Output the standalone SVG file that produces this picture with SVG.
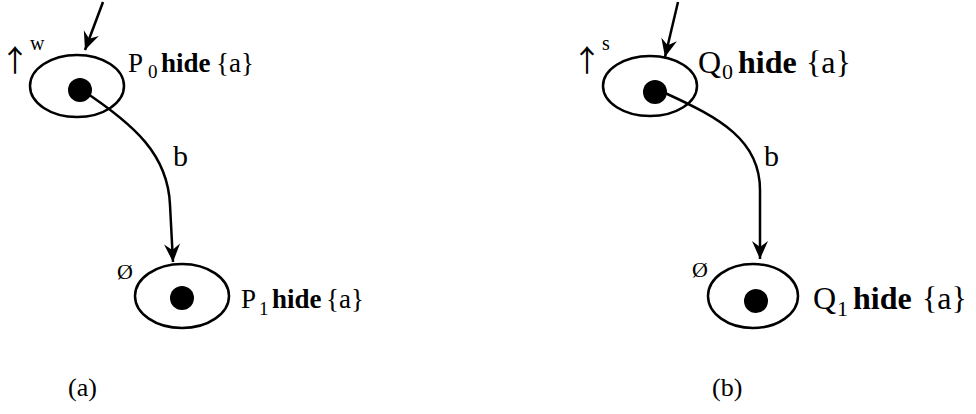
<svg xmlns="http://www.w3.org/2000/svg" width="976" height="414" viewBox="0 0 976 414">
  <style>
    .state { fill: none; stroke: #000; stroke-width: 2.5; }
    .dot { fill: #000; }
    .edge { fill: none; stroke: #000; stroke-width: 2.5; marker-end: url(#head); }
    text { font-family: "Liberation Serif", "Times New Roman", serif; fill: #000; }
    .lbl-a { font-size: 27px; }
    .sub-a { font-size: 19px; }
    .lbl { font-size: 32px; }
    .sub { font-size: 22px; }
    .bold { font-weight: bold; }
    .edge-lbl { font-size: 30px; }
    .mark { font-size: 22px; }
    .arrow-up { font-family: "Noto Sans CJK JP", "DejaVu Sans", sans-serif; font-size: 30px; }
    .sup { font-size: 20px; }
    .cap { font-size: 26px; }
  </style>
  <defs>
    <marker id="head" markerUnits="userSpaceOnUse" markerWidth="22" markerHeight="18" viewBox="-18 -9 20 18" refX="0" refY="0" orient="auto">
      <path d="M0,0 L-18,-8 L-12,0 L-18,8 Z" fill="#000"/>
    </marker>
  </defs>

  <!-- transitions -->
  <g id="connectors">
    <path class="edge" d="M103,2 L85,50"/>
    <path class="edge" d="M82,90 C135,125 168,155 170,205 L173,262"/>
    <path class="edge" d="M678,2 L665,57"/>
    <path class="edge" d="M665,93 C720,118 760,140 760,190 L760,259"/>
    <text class="edge-lbl" x="173" y="166">b</text>
    <text class="edge-lbl" x="764" y="166">b</text>
  </g>

  <!-- (a) -->
  <g id="P0">
    <ellipse class="state" cx="77" cy="86" rx="47" ry="31"/>
    <circle class="dot" cx="80" cy="90" r="12"/>
    <text class="arrow-up" x="0" y="71">↑</text>
    <text class="sup" x="30" y="50">w</text>
    <text class="lbl-a" x="128" y="72">P</text>
    <text class="sub-a" x="148" y="78">0</text>
    <text class="lbl-a bold" x="161" y="72">hide</text>
    <text class="lbl-a" x="216" y="72">{a}</text>
  </g>
  <g id="P1">
    <ellipse class="state" cx="182" cy="296" rx="47" ry="32"/>
    <circle class="dot" cx="182" cy="298" r="12"/>
    <text class="mark" x="117" y="279">Ø</text>
    <text class="lbl-a" x="241" y="308">P</text>
    <text class="sub-a" x="259" y="315">1</text>
    <text class="lbl-a bold" x="272" y="308">hide</text>
    <text class="lbl-a" x="326" y="308">{a}</text>
  </g>
  <text class="cap" x="68" y="396">(a)</text>

  <!-- (b) -->
  <g id="Q0">
    <ellipse class="state" cx="650" cy="86" rx="47" ry="30"/>
    <circle class="dot" cx="655" cy="92" r="12"/>
    <text class="arrow-up" x="572" y="71">↑</text>
    <text class="sup" x="602" y="50">s</text>
    <text class="lbl" x="698" y="73">Q</text>
    <text class="sub" x="722" y="79">0</text>
    <text class="lbl bold" x="738" y="73">hide</text>
    <text class="lbl" x="806" y="73">{a}</text>
  </g>
  <g id="Q1">
    <ellipse class="state" cx="753" cy="296" rx="45" ry="32"/>
    <circle class="dot" cx="756" cy="301" r="12"/>
    <text class="mark" x="692" y="277">Ø</text>
    <text class="lbl" x="813" y="309">Q</text>
    <text class="sub" x="837" y="316">1</text>
    <text class="lbl bold" x="853" y="309">hide</text>
    <text class="lbl" x="922" y="309">{a}</text>
  </g>
  <text class="cap" x="712" y="396">(b)</text>
</svg>
